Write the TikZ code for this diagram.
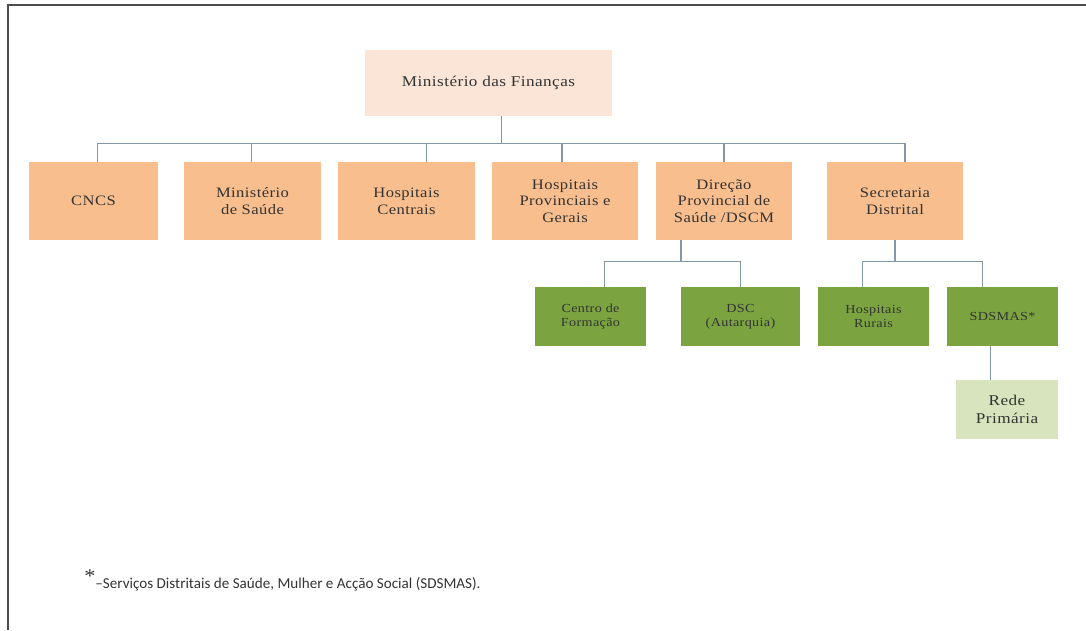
\documentclass[tikz,border=0pt]{standalone}
\usepackage{fontspec}
\usepackage{xcolor}
\setmainfont{Liberation Serif}[FakeStretch=1.15, LetterSpace=3]
\newfontfamily\notefont{Carlito}
\usetikzlibrary{calc}

\definecolor{topfill}{HTML}{FBE5D6}
\definecolor{unitfill}{HTML}{F8BE8E}
\definecolor{subfill}{HTML}{7BA440}
\definecolor{basefill}{HTML}{D8E4BD}
\definecolor{linkcol}{HTML}{8497A8}

\begin{document}
\begin{tikzpicture}[
  x=0.02cm, y=-0.02cm,
  every node/.style={align=center, inner sep=1pt, text=black!80},
  headbox/.style={fill=topfill, minimum width=4.94cm, minimum height=1.32cm,
    font=\fontsize{8.5}{10}\selectfont},
  unitbox/.style={fill=unitfill, minimum height=1.56cm,
    font=\fontsize{8.2}{9.5}\selectfont}, %row of the six units
  subbox/.style={fill=subfill, minimum width=2.22cm, minimum height=1.18cm,
    font=\fontsize{7}{8}\selectfont},
  basebox/.style={fill=basefill, minimum width=2.04cm, minimum height=1.18cm,
    font=\fontsize{8.5}{10}\selectfont},
  link/.style={draw=linkcol, line width=0.6pt}]

\useasboundingbox (0,0) rectangle (1086,630);
\draw[black!70, line width=0.9pt] (8,630) -- (8,5) -- (1086,5);

\node[headbox] (fin) at (488.5,83) {Ministério das Finanças};

\node[unitbox, minimum width=2.58cm] (cncs) at (93.5,201) {CNCS};
\node[unitbox, minimum width=2.74cm] (msau) at (252.5,201) {Ministério\\de Saúde};
\node[unitbox, minimum width=2.74cm] (hcen) at (406.5,201) {Hospitais\\Centrais};
\node[unitbox, minimum width=2.92cm] (hprov) at (565,201) {Hospitais\\Provinciais e\\Gerais};
\node[unitbox, minimum width=2.72cm] (dir) at (724,201) {Direção\\Provincial de\\Saúde /DSCM};
\node[unitbox, minimum width=2.72cm] (sec) at (895,201) {Secretaria\\Distrital};

\node[subbox] (cfor) at (590.5,316.5) {Centro de\\Formação};
\node[subbox, minimum width=2.38cm] (dsc) at (740.5,316.5) {DSC\\(Autarquia)};
\node[subbox] (hrur) at (873.5,316.5) {Hospitais\\Rurais};
\node[subbox] (sds) at (1002.5,316.5) {SDSMAS*};

\node[basebox] (rede) at (1007,409.5) {Rede\\Primária};

% points where the connectors meet the boxes
\coordinate (fin-out) at ($(fin.south)+(13,0)$);
\coordinate (cncs-in) at ($(cncs.north)+(4,0)$);
\coordinate (msau-in) at ($(msau.north)+(-1,0)$);
\coordinate (hcen-in) at ($(hcen.north)+(20,0)$);
\coordinate (hprov-in) at ($(hprov.north)+(-3,0)$);
\coordinate (dir-in) at (dir.north);
\coordinate (sec-in) at ($(sec.north)+(10,0)$);
\coordinate (dir-out) at ($(dir.south)+(-43,0)$);
\coordinate (cfor-in) at ($(cfor.north)+(14,0)$);
\coordinate (hrur-in) at ($(hrur.north)+(-11,0)$);
\coordinate (sds-in) at ($(sds.north)+(-20,0)$);
\coordinate (sds-out) at ($(sds.south)+(-12,0)$);

\draw[link] (fin-out) -- ++(0,27) coordinate (hub);
\draw[link] (cncs-in) -- (cncs-in |- hub) -- (sec-in |- hub) -- (sec-in);
\foreach \n in {msau,hcen,hprov,dir}
  \draw[link] (\n-in) -- (\n-in |- hub);

\draw[link] (dir-out) -- ++(0,21) coordinate (dirhub);
\draw[link] (cfor-in) -- (cfor-in |- dirhub) -- (dsc.north |- dirhub) -- (dsc.north);

\draw[link] (sec.south) -- ++(0,21) coordinate (sechub);
\draw[link] (hrur-in) -- (hrur-in |- sechub) -- (sds-in |- sechub) -- (sds-in);

\draw[link] (sds-out) -- (sds-out |- rede.north);

\node[anchor=base west, inner sep=0pt] (note) at (84,588)
  {\raisebox{3pt}{\fontsize{11}{11}\selectfont *}{\notefont\fontsize{8.6}{9}\selectfont –Serviços Distritais de Saúde, Mulher e Acção Social (SDSMAS).}};
\end{tikzpicture}
\end{document}
